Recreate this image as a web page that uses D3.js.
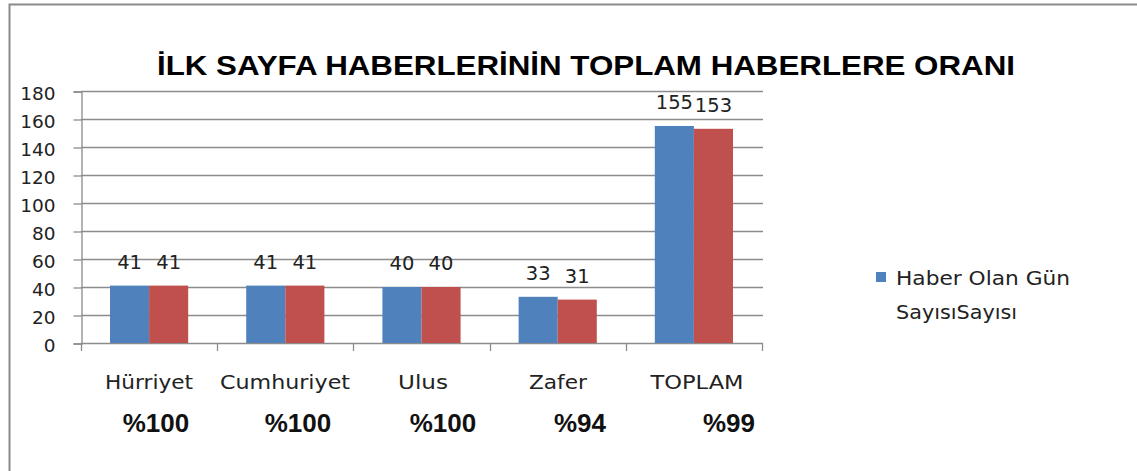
<!DOCTYPE html>
<html><head><meta charset="utf-8">
<script src="https://cdn.jsdelivr.net/npm/d3@7"></script>
<style>
html,body{margin:0;padding:0;background:#fff;}
svg{display:block;}
</style></head>
<body>
<script>
const categories = ["Hürriyet","Cumhuriyet","Ulus","Zafer","TOPLAM"];
const seriesNames = ["Haber Olan Gün Sayısı","Sayısı"];
const blueValues = [41,41,40,33,155];
const redValues = [41,41,40,31,153];
const percentLabels = ["%100","%100","%100","%94","%99"];
const yTicks = [0,20,40,60,80,100,120,140,160,180];
const titleText = "İLK SAYFA HABERLERİNİN  TOPLAM HABERLERE ORANI";
const legendLines = ["Haber Olan Gün","SayısıSayısı"];

const W=1137,H=471;
const svg=d3.select("body").append("svg").attr("width",W).attr("height",H);
svg.append("rect").attr("width",W).attr("height",H).attr("fill","#fff");
svg.append("path").attr("d",`M9.5,${H} L9.5,4.5 L${W},4.5`).attr("fill","none").attr("stroke","#8a8a8a").attr("stroke-width",2);

const gridColor="#8c8c8c";
const numFont="'DejaVu Sans', Verdana, sans-serif";
const textColor="#222";
const x=d3.scaleBand().domain(categories).range([81,762]).paddingInner(0).paddingOuter(0);
const y=d3.scaleLinear().domain([0,180]).range([343,91]);
const bw=x.bandwidth();
const xs=d3.scaleBand().domain([0,1]).range([bw*0.213,bw*0.787]);

svg.append("g").selectAll("line").data(yTicks).join("line")
  .attr("x1",81).attr("x2",763).attr("y1",d=>Math.round(y(d))+0.5).attr("y2",d=>Math.round(y(d))+0.5)
  .attr("stroke",gridColor).attr("stroke-width",1.3);

const yAxis=svg.append("g").attr("transform","translate(81.5,0.5)")
  .call(d3.axisLeft(y).tickValues(yTicks).tickSize(8).tickPadding(18).tickFormat(d3.format("d")));
yAxis.select(".domain").attr("stroke",gridColor).attr("stroke-width",1.3);
yAxis.selectAll(".tick line").attr("stroke",gridColor).attr("stroke-width",1.3);
yAxis.selectAll(".tick text").attr("font-family",numFont).attr("font-size",18.5).attr("fill",textColor).attr("dy","0.45em");

const xAxis=svg.append("g").attr("transform","translate(0,343.5)")
  .call(d3.axisBottom(x).tickSize(0).tickFormat(""));
xAxis.select(".domain").remove();
const tickPos=categories.map(c=>x(c)).concat([x(categories[categories.length-1])+bw]);
svg.append("g").selectAll("line").data(tickPos).join("line")
  .attr("x1",d=>Math.round(d)+0.5).attr("x2",d=>Math.round(d)+0.5).attr("y1",343).attr("y2",351)
  .attr("stroke",gridColor).attr("stroke-width",1.3);

const colors=["#4F81BD","#C0504D"];
const data=categories.map((c,i)=>({c,vals:[blueValues[i],redValues[i]]}));
const groups=svg.append("g").selectAll("g").data(data).join("g").attr("transform",d=>`translate(${x(d.c)},0)`);
groups.selectAll("rect").data(d=>d.vals.map((v,j)=>({v,j}))).join("rect")
  .attr("x",d=>xs(d.j)).attr("width",xs.bandwidth())
  .attr("y",d=>y(d.v)).attr("height",d=>y(0)-y(d.v)).attr("fill",d=>colors[d.j]);
groups.selectAll("text").data(d=>d.vals.map((v,j)=>({v,j}))).join("text")
  .attr("x",d=>xs(d.j)+xs.bandwidth()/2).attr("y",d=>y(d.v)-17)
  .attr("text-anchor","middle").attr("font-family",numFont).attr("font-size",19.5).attr("fill",textColor)
  .text(d=>d.v);

const catWidths=[88,130,50,58,93];
const catCenters=[149,285,423,558,697];
svg.append("g").selectAll("text").data(categories).join("text")
  .attr("x",(d,i)=>catCenters[i]).attr("y",389).attr("text-anchor","middle")
  .attr("font-family",numFont).attr("font-size",19).attr("fill",textColor)
  .attr("textLength",(d,i)=>catWidths[i]).attr("lengthAdjust","spacingAndGlyphs").text(d=>d);

const pctX=[156,298,443,580,729];
svg.append("g").selectAll("text").data(percentLabels).join("text")
  .attr("x",(d,i)=>pctX[i]).attr("y",432).attr("text-anchor","middle")
  .attr("font-family","'Liberation Sans Narrow','Liberation Sans',Arial,sans-serif").attr("font-weight","bold")
  .attr("font-size",26).attr("fill","#111").text(d=>d);

svg.append("text").attr("x",586).attr("y",75).attr("text-anchor","middle")
  .attr("font-family","'Liberation Sans',Arial,sans-serif").attr("font-weight","bold").attr("font-size",28)
  .attr("textLength",858).attr("lengthAdjust","spacingAndGlyphs").attr("fill","#000").text(titleText);

svg.append("rect").attr("x",876).attr("y",272).attr("width",10).attr("height",10).attr("fill",colors[0]);
const legW=[174,121];
svg.append("g").selectAll("text").data(legendLines).join("text")
  .attr("x",896).attr("y",(d,i)=>285+i*34)
  .attr("font-family",numFont).attr("font-size",19).attr("fill",textColor)
  .attr("textLength",(d,i)=>legW[i]).attr("lengthAdjust","spacingAndGlyphs").text(d=>d);
</script>
</body></html>
